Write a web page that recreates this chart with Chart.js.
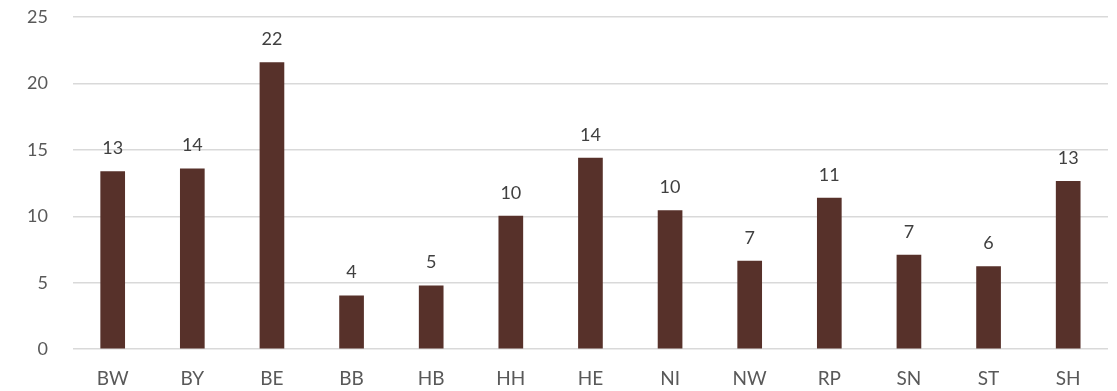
<!DOCTYPE html>
<html>
<head>
<meta charset="utf-8">
<script src="https://cdn.jsdelivr.net/npm/chart.js@4"></script>
<style>
  html, body { margin: 0; padding: 0; background: #fff; }
  #wrap { width: 1117px; height: 391px; }
</style>
</head>
<body>
<div id="wrap"><canvas id="barChart"></canvas></div>
<script>
// Categories (Bundesländer) and values
const labels = ['BW', 'BY', 'BE', 'BB', 'HB', 'HH', 'HE', 'NI', 'NW', 'RP', 'SN', 'ST', 'SH'];
const values = [13.4, 13.6, 21.6, 4.05, 4.8, 10.05, 14.4, 10.45, 6.65, 11.4, 7.1, 6.25, 12.65];
const yTicks = [0, 5, 10, 15, 20, 25];

// draws rounded value above each bar
const valueLabels = {
    id: 'valueLabels',
    afterDatasetsDraw(chart) {
        const ctx = chart.ctx;
        const meta = chart.getDatasetMeta(0);
        ctx.save();
        ctx.font = '18px Lato';
        ctx.fillStyle = '#404040';
        ctx.textAlign = 'center';
        ctx.textBaseline = 'alphabetic';
        meta.data.forEach((bar, i) => {
            ctx.fillText(Math.round(values[i]), bar.x, bar.y - 17);
        });
        ctx.restore();
    }
};

const ctx = document.getElementById('barChart').getContext('2d');
const barChart = new Chart(ctx, {
    type: 'bar',
    data: {
        labels: labels,
        datasets: [{
            data: values,
            backgroundColor: '#57312a',
            borderWidth: 0,
            categoryPercentage: 1,
            barPercentage: 0.31
        }]
    },
    options: {
        responsive: true,
        maintainAspectRatio: false,
        animation: false,
        layout: {
            padding: { left: 27, right: 9, top: 17, bottom: 1 }
        },
        plugins: {
            legend: { display: false },
            tooltip: { enabled: false }
        },
        scales: {
            y: {
                min: 0,
                max: 25,
                afterBuildTicks: axis => { axis.ticks = yTicks.map(v => ({ value: v })); },
                border: { display: false },
                // transparent tick marks give the gap between labels and plot
                grid: { color: '#d9d9d9', lineWidth: 1.5, drawTicks: true, tickLength: 25, tickColor: 'rgba(0,0,0,0)' },
                ticks: { padding: 0, color: '#595959', font: { family: 'Lato', size: 18 } }
            },
            x: {
                border: { display: false },
                grid: { display: true, drawOnChartArea: false, drawTicks: true, tickLength: 18, tickColor: 'rgba(0,0,0,0)' },
                ticks: { padding: 0, color: '#595959', font: { family: 'Lato', size: 19 } }
            }
        }
    },
    plugins: [valueLabels]
});
</script>
</body>
</html>
